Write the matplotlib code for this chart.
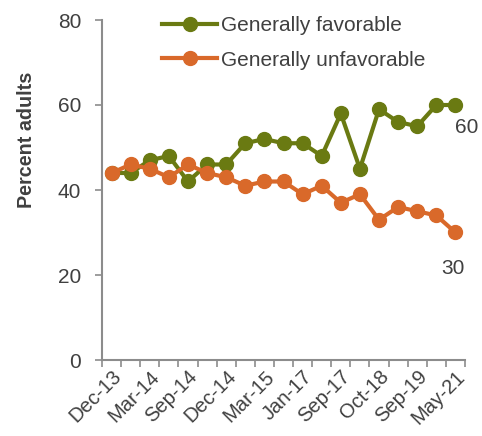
import matplotlib
matplotlib.use("Agg")
import matplotlib.pyplot as plt
from matplotlib.ticker import FixedLocator, NullFormatter

plt.rcParams['font.family'] = ['Liberation Sans', 'DejaVu Sans']

categories = ["Dec-13", "", "Mar-14", "", "Sep-14", "", "Dec-14", "", "Mar-15", "",
              "Jan-17", "", "Sep-17", "", "Oct-18", "", "Sep-19", "", "May-21"]
favorable = [44, 44, 47, 48, 42, 46, 46, 51, 52, 51, 51, 48, 58, 45, 59, 56, 55, 60, 60]
unfavorable = [44, 46, 45, 43, 46, 44, 43, 41, 42, 42, 39, 41, 37, 39, 33, 36, 35, 34, 30]
series_names = ["Generally favorable", "Generally unfavorable"]
y_ticks = [0, 20, 40, 60, 80]

green = "#6a7a12"
orange = "#d9692a"
grey = "#8c8c8c"
text_c = "#404040"

fig = plt.figure(figsize=(4.82, 4.36), dpi=100)
ax = fig.add_axes([102/482, 1 - 360/436, (465-102)/482, 340/436])

x = list(range(len(categories)))
ax.plot(x, favorable, color=green, lw=3, marker='o', ms=10, label=series_names[0], zorder=3)
ax.plot(x, unfavorable, color=orange, lw=3, marker='o', ms=10, label=series_names[1], zorder=3)

ax.set_xlim(-0.5, len(categories) - 0.5)
ax.set_ylim(0, 80)
ax.set_yticks(y_ticks)
ax.set_yticklabels([str(v) for v in y_ticks], fontsize=15, color=text_c)

# category labels at centers, tick marks at boundaries
ax.xaxis.set_major_locator(FixedLocator([i - 0.5 for i in range(len(categories) + 1)]))
ax.xaxis.set_major_formatter(NullFormatter())
ax.xaxis.set_minor_locator(FixedLocator(x))
ax.set_xticklabels(categories, minor=True, rotation=45, ha='right', rotation_mode='anchor',
                   fontsize=14.5, color=text_c)
ax.tick_params(axis='x', which='minor', length=0, pad=5)
ax.tick_params(axis='x', which='major', length=5, width=1.2, color=grey, direction='out')
ax.tick_params(axis='y', length=5, width=1.2, color=grey, pad=10)

for s in ['top', 'right']:
    ax.spines[s].set_visible(False)
for s in ['left', 'bottom']:
    ax.spines[s].set_color(grey)
    ax.spines[s].set_linewidth(1.5)

ax.set_ylabel("Percent adults", fontsize=14.2, fontweight='bold', color=text_c)
ax.yaxis.set_label_coords(-0.183, 0.647)

ax.annotate(str(favorable[-1]), (x[-1], favorable[-1]), xytext=(0, -16), textcoords='offset points',
            ha='left', va='center', fontsize=15, color=text_c)
ax.annotate(str(unfavorable[-1]), (x[-1], unfavorable[-1]), xytext=(-2, -26), textcoords='offset points',
            ha='center', va='center', fontsize=15, color=text_c)

leg = ax.legend(loc='upper left', bbox_to_anchor=(0.115, 1.067), frameon=False, fontsize=15,
                handlelength=2.6, handletextpad=0.2, labelspacing=0.75, labelcolor=text_c)

for line in ax.lines:
    line.set_clip_on(False)

fig.savefig("out.png", dpi=100)
